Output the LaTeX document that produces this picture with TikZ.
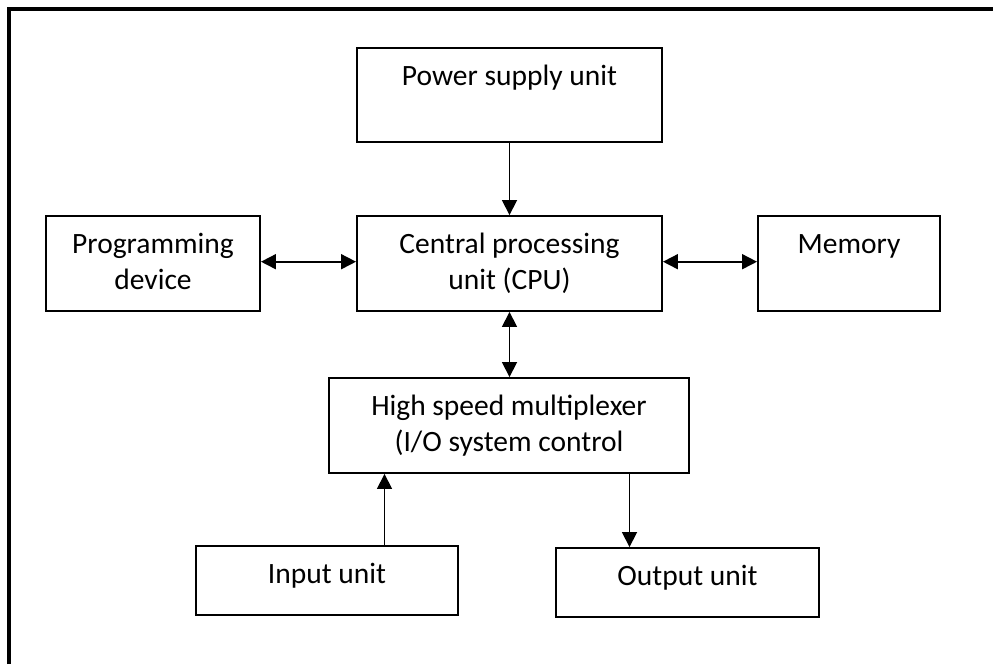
\documentclass[tikz,border=0pt]{standalone}
\usepackage{fontspec}
\setmainfont{Carlito}
\usetikzlibrary{arrows.meta,calc}
\begin{document}
\begin{tikzpicture}[x=1pt,y=-1pt,
  box/.style={draw=black,line width=1.9pt,rectangle,inner sep=0pt,fill=white},
  lbl/.style={anchor=base,inner sep=0pt,font=\fontsize{29.5}{35}\selectfont},
  conn/.style={line width=1.7pt},
  >={Triangle[length=15pt,width=15pt]}
]
\useasboundingbox (0,0) rectangle (993,664);
\fill[white] (0,0) rectangle (993,664);
% outer frame (only top and left visible)
\draw[line width=4pt] (9,664) -- (9,9) -- (993,9);

% boxes
\node[box,minimum width=305pt,minimum height=94pt] (pwr) at (509.5,95) {};
\node[box,minimum width=214pt,minimum height=95pt] (prog) at (153,263.5) {};
\node[box,minimum width=305pt,minimum height=95pt] (cpu) at (509.5,263.5) {};
\node[box,minimum width=182pt,minimum height=95pt] (mem) at (849,263.5) {};
\node[box,minimum width=360pt,minimum height=95pt] (hsm) at (509,425.5) {};
\node[box,minimum width=262pt,minimum height=69pt] (inp) at (327,580.5) {};
\node[box,minimum width=263pt,minimum height=69pt] (out) at (687.5,582.5) {};

% texts
\node[lbl] (pwrA) at ($(pwr.north)+(0,38.5)$) {Power supply unit};
\node[lbl] (progA) at ($(prog.north)+(0,38.5)$) {Programming};
\node[lbl] (progB) at ($(prog.north)+(0,74.2)$) {device};
\node[lbl] (cpuA) at ($(cpu.north)+(0,38.5)$) {Central processing};
\node[lbl] (cpuB) at ($(cpu.north)+(0,74.2)$) {unit (CPU)};
\node[lbl] (memA) at ($(mem.north)+(0,38.5)$) {Memory};
\node[lbl] (hsmA) at ($(hsm.north)+(0,38.5)$) {High speed multiplexer};
\node[lbl] (hsmB) at ($(hsm.north)+(0,74.2)$) {(I/O system control};
\node[lbl] (inpA) at ($(inp.north)+(0,38.5)$) {Input unit};
\node[lbl] (outA) at ($(out.north)+(0,38)$) {Output unit};

% connectors
\draw[conn,->] (pwr.south) -- (cpu.north);
\draw[conn,<->] (prog.east |- 0,261.7) -- (cpu.west |- 0,261.7);
\draw[conn,<->] (cpu.east |- 0,261.7) -- (mem.west |- 0,261.7);
\draw[conn,<->] (cpu.south) -- (hsm.north -| cpu.south);
\draw[conn,->] (inp.north -| 384.5,0) -- (hsm.south -| 384.5,0);
\draw[conn,->] (hsm.south -| 629.5,0) -- (out.north -| 629.5,0);
\end{tikzpicture}
\end{document}
